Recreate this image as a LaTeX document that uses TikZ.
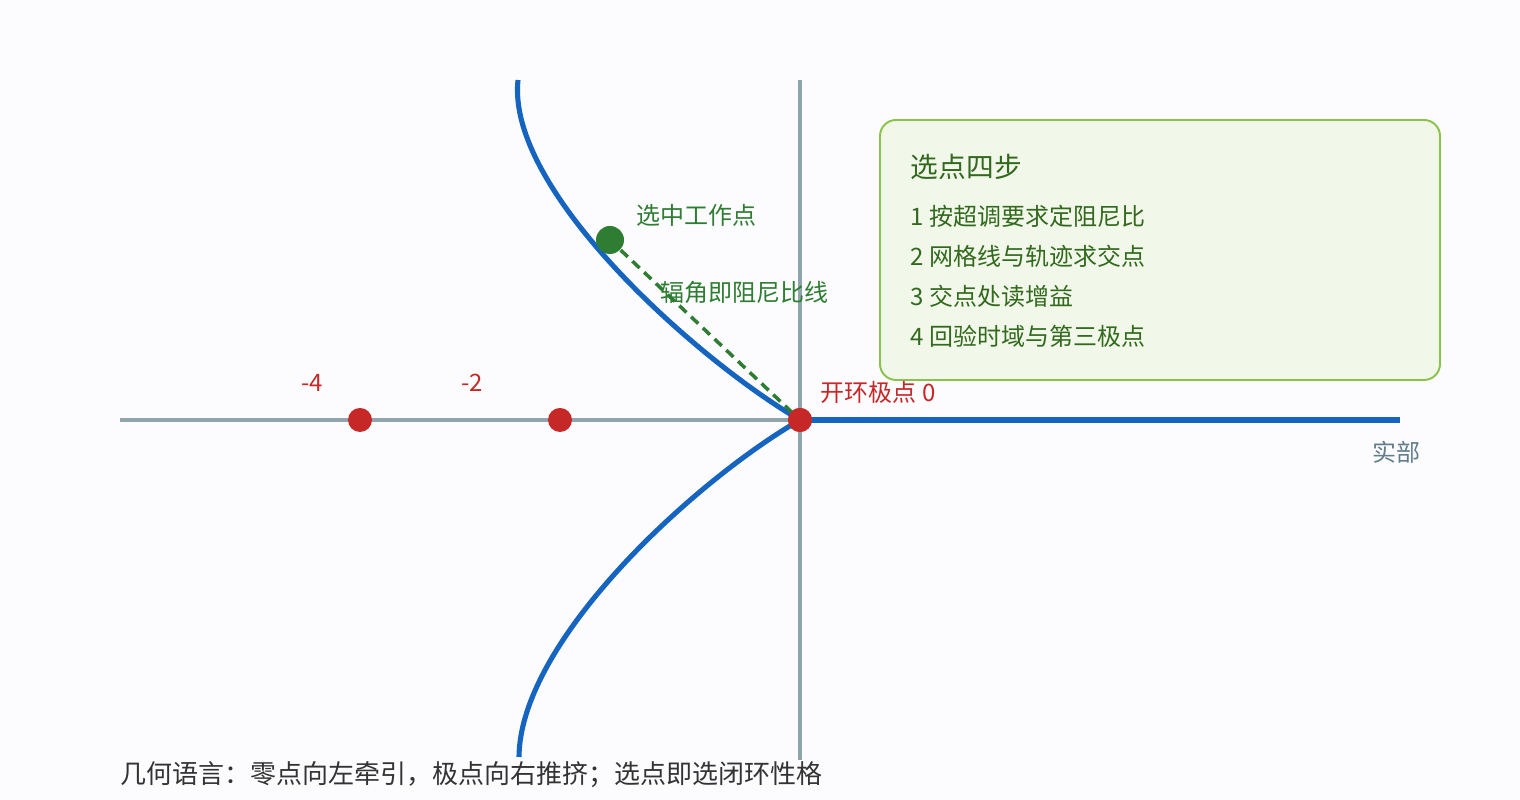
\documentclass[tikz,border=0pt]{standalone}
\usepackage{fontspec}
\setmainfont{Noto Sans CJK SC}
\usetikzlibrary{positioning}
\definecolor{pagebg}{HTML}{FCFCFE}
\definecolor{locusblue}{HTML}{1565C0}
\definecolor{axisgray}{HTML}{90A4AE}
\definecolor{polered}{HTML}{C62828}
\definecolor{workgreen}{HTML}{2E7D32}
\definecolor{boxfill}{HTML}{F1F8E9}
\definecolor{boxline}{HTML}{8BC34A}
\definecolor{boxtext}{HTML}{33691E}
\definecolor{labelgray}{HTML}{607D8B}
\definecolor{notegray}{HTML}{333333}
\tikzset{
  axisline/.style={draw=axisgray,line width=1.1pt},
  locus/.style={draw=locusblue,line width=1.45pt},
  poledot/.style={circle,fill=polered,inner sep=0pt,minimum size=0.24cm},
  txt/.style={inner sep=0pt,font=\fontsize{6.83pt}{8pt}\selectfont}
}
\begin{document}
\begin{tikzpicture}
				\fill [pagebg] (0,0) rectangle (15.2,8);
				\useasboundingbox (0,0) rectangle (15.2,8);
				
				% axes
				\coordinate (reLeft) at (1.2,3.8);
				\coordinate (reRight) at (14.0,3.8);
				\coordinate (imTop) at (8.0,7.2);
				\coordinate (imBottom) at (8.0,0.4);
				\path [axisline] (reLeft) edge (reRight);
				\path [axisline] (imTop) edge (imBottom);
				
				% info box
				\draw [draw=boxline,fill=boxfill,line width=0.55pt,rounded corners=0.16cm] (8.8,4.2) rectangle (14.4,6.8);
				
				% root locus branches
				\coordinate (upEnd) at (5.18,7.2);
				\coordinate (lowEnd) at (5.19,0.43);
				\node [poledot] (pole0) at (8.0,3.8) {};
				\draw [locus] (pole0.center) -- (reRight);
				\draw [locus] (pole0.center) .. controls (6.97,4.4) and (5.06,6.1) .. (upEnd);
				\draw [locus] (pole0.center) .. controls (6.96,3.2) and (5.20,1.6) .. (lowEnd);
				
				\node [circle,fill=workgreen,inner sep=0pt,minimum size=0.28cm] (work) at (6.1,5.6) {};
				\draw [workgreen,line width=1pt,dash pattern=on 2.8pt off 1.8pt] (work) -- (pole0.center);
				
				\node [poledot] (pole4) at (3.6,3.8) {};
				\node [poledot] (pole2) at (5.6,3.8) {};
				\node [poledot] at (pole0) {};
				
				% labels
				\begin{scope}[every node/.style={txt}]
					\node [polered] (lab4) at (3.12,4.17) {-4};
					\node [polered] (lab2) at (4.72,4.17) {-2};
					\node [polered,anchor=west] (lab0) at (8.20,4.08) {开环极点 0};
					\node [workgreen,anchor=west] (labWork) at (6.36,5.85) {选中工作点};
					\node [workgreen,anchor=west] (labRay) at (6.60,5.08) {辐角即阻尼比线};
					\node [labelgray] (labRe) at (13.96,3.48) {实部};
					\node [boxtext,anchor=west,font=\fontsize{7.9pt}{9pt}\selectfont] (stepsTitle) at (9.10,6.33) {选点四步};
					\node [boxtext,anchor=west] (step1) at (9.10,5.84) {1 按超调要求定阻尼比};
					\node [boxtext,anchor=west] (step2) at (9.10,5.44) {2 网格线与轨迹求交点};
					\node [boxtext,anchor=west] (step3) at (9.10,5.04) {3 交点处读增益};
					\node [boxtext,anchor=west] (step4) at (9.10,4.64) {4 回验时域与第三极点};
					\node [notegray,anchor=west,font=\fontsize{7.4pt}{9pt}\selectfont] (note) at (1.20,0.25) {几何语言：零点向左牵引，极点向右推挤；选点即选闭环性格};
				\end{scope}
			\end{tikzpicture}
\end{document}
